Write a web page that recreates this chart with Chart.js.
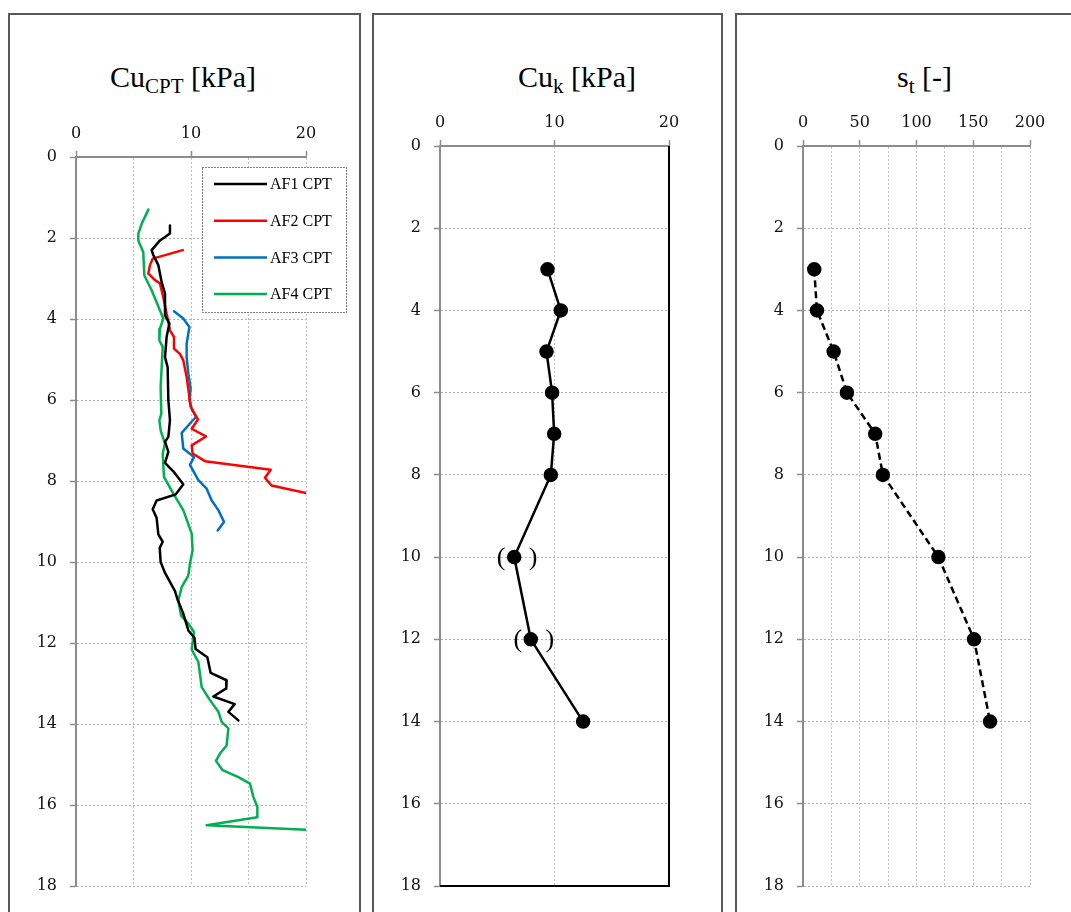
<!DOCTYPE html>
<html>
<head>
<meta charset="utf-8">
<script src="https://cdn.jsdelivr.net/npm/chart.js@4.4.1/dist/chart.umd.min.js"></script>
<style>
  body { margin: 0; background: #fff; width: 1071px; height: 912px; overflow: hidden; position: relative; font-family: "Liberation Serif", serif; }
  .panel { position: absolute; top: 13px; height: 930px; border: 2px solid #595959; box-sizing: border-box; }
  .title { position: absolute; top: 62px; font-size: 30px; line-height: 30px; white-space: nowrap; color: #000; }
  .title span { font-size: 21px; position: relative; top: 6px; }
  canvas { position: absolute; }
</style>
</head>
<body>
<div class="panel" style="left:8px; width:353px;"></div>
<div class="panel" style="left:372px; width:351px;"></div>
<div class="panel" style="left:735px; width:400px;"></div>

<div class="title" style="left:110px;">Cu<span>CPT</span> [kPa]</div>
<div class="title" style="left:518px;">Cu<span>k</span> [kPa]</div>
<div class="title" style="left:897px;">s<span>t</span> [-]</div>

<canvas id="chart-cpt" width="348" height="812" style="left:10px; top:100px;"></canvas>
<canvas id="chart-cuk" width="346" height="822" style="left:374px; top:90px;"></canvas>
<canvas id="chart-st" width="333" height="822" style="left:738px; top:90px;"></canvas>

<script>
// Cu CPT soundings (depth m, Cu kPa)
const af1Depth = [1.69,1.89,2.06,2.30,2.42,2.67,3.09,3.37,3.91,4.11,4.44,4.94,5.19,6.0,6.5,6.91,7.03,7.28,7.55,7.76,8.08,8.33,8.48,8.70,8.91,9.32,9.50,9.65,10.0,10.27,10.72,10.92,11.25,11.69,11.87,12.15,12.35,12.74,12.92,13.12,13.32,13.51,13.70,13.91];
const af1Cu = [8.17,8.17,7.3,6.58,6.72,7.16,7.45,7.74,7.74,8.12,7.88,7.74,7.97,8.03,8.17,8.03,7.74,8.03,7.74,8.46,9.33,8.68,7.01,6.67,7.01,7.16,7.54,7.28,7.36,7.74,8.61,8.82,9.3,9.77,10.3,10.4,11.42,11.71,13.1,13.07,11.94,13.8,13.25,14.12];

const af2Depth = [2.30,2.51,2.67,2.88,3.04,3.12,3.46,3.87,4.07,4.28,4.44,4.73,4.86,5.02,5.43,5.84,6.17,6.48,6.71,6.90,7.12,7.32,7.51,7.72,7.92,8.11,8.30];
const af2Cu = [9.28,6.67,6.43,6.29,6.87,7.3,7.59,7.88,8.03,8.17,8.52,8.52,9.04,9.33,9.62,9.82,9.97,10.6,10.06,11.3,10.06,10.14,11.22,16.93,16.43,17.0,20.0];

const af3Depth = [3.81,3.99,4.2,4.61,4.94,5.35,5.72,6.0,6.21,6.42,6.58,6.81,7.2,7.41,7.6,7.98,8.19,8.48,8.72,9.01,9.22];
const af3Cu = [8.52,9.33,9.86,9.62,9.62,9.77,9.97,9.86,10.06,10.43,9.91,9.19,9.33,10.26,9.91,10.64,11.36,11.8,12.38,12.87,12.32];

const af4Depth = [1.30,1.65,1.89,2.06,2.35,2.92,3.29,3.99,4.24,4.53,4.69,5.19,5.68,6.34,6.5,6.75,7.08,7.32,7.9,8.31,8.72,9.3,9.71,10.04,10.33,10.62,10.95,11.32,11.52,11.73,12.16,12.47,13.09,13.41,13.7,13.95,14.11,14.53,14.73,14.91,15.14,15.31,15.47,15.8,16.05,16.3,16.5,16.61];
const af4Cu = [6.29,5.71,5.42,5.42,5.85,5.94,6.58,7.59,7.3,7.25,7.54,7.45,7.36,7.42,7.25,7.36,7.74,7.54,7.65,8.46,9.33,10.06,10.14,9.91,9.77,9.19,8.9,9.13,9.77,10.26,10.06,10.64,10.93,11.65,12.38,12.67,13.25,13.1,12.52,12.17,12.75,14.12,15.13,15.42,15.77,15.77,11.36,20.0];

const seriesLabels = ["AF1 CPT", "AF2 CPT", "AF3 CPT", "AF4 CPT"];
const seriesColors = ["#000000", "#ff0000", "#0070c0", "#00b050"];

// Cu_k and s_t at sample depths
const sampleDepth = [3,4,5,6,7,8,10,12,14];
const cukValues = [9.39,10.55,9.30,9.79,9.97,9.68,6.48,7.93,12.5];
const bracketDepths = [10,12]; // values shown in ( )
const stValues = [9.9,12.3,27,38.7,63.6,70.4,119.3,150.7,164.8];

// axis settings
const depthMax = 18;
const depthStep = 2;

const toPoints = (xs, ys) => xs.map((x, i) => ({ x: x, y: ys[i] }));

const tickFont = { family: "DejaVu Serif", size: 16 };

function makeScales(xMax, gridStep, labelStep, yWidth, xHeight) {
    return {
        x: {
            type: 'linear',
            position: 'top',
            min: 0,
            max: xMax,
            afterFit: s => { s.height = xHeight; },
            ticks: {
                stepSize: gridStep,
                autoSkip: false,
                maxRotation: 0,
                padding: 8,
                color: '#111',
                font: tickFont,
                callback: v => (v % labelStep === 0 ? v : '')
            },
            grid: {
                color: '#c0c0c0',
                lineWidth: 1,
                tickLength: 6,
                tickWidth: 1.5,
                tickColor: c => (c.tick && c.tick.value % labelStep === 0 ? '#8c8c8c' : 'rgba(0,0,0,0)')
            },
            border: { color: '#8c8c8c', width: 2, dash: [2, 2] }
        },
        y: {
            type: 'linear',
            reverse: true,
            min: 0,
            max: depthMax,
            afterFit: s => { s.width = yWidth; },
            ticks: { stepSize: depthStep, padding: 13, color: '#111', font: tickFont },
            grid: { color: '#b0b0b0', lineWidth: 1, tickLength: 6, tickWidth: 1.5, tickColor: '#8c8c8c' },
            border: { color: '#8c8c8c', width: 2, dash: [2, 2] }
        }
    };
}

const baseOptions = (pad, scales) => ({
    responsive: false,
    animation: false,
    layout: { padding: pad },
    plugins: { legend: { display: false }, tooltip: { enabled: false } },
    scales: scales
});

// legend box drawn inside the first chart
const legendBox = {
    id: 'legendBox',
    afterDraw(chart) {
        const { ctx, chartArea } = chart;
        const x0 = chartArea.left + 126, y0 = chartArea.top + 10, w = 144, h = 145;
        ctx.save();
        ctx.fillStyle = '#fff';
        ctx.fillRect(x0, y0, w, h);
        ctx.strokeStyle = '#000';
        ctx.lineWidth = 1;
        ctx.setLineDash([1, 2]);
        ctx.strokeRect(x0 + 0.5, y0 + 0.5, w, h);
        ctx.setLineDash([]);
        ctx.font = '16px "Liberation Serif"';
        ctx.textBaseline = 'middle';
        ctx.fillStyle = '#000';
        chart.data.datasets.forEach((ds, i) => {
            const yy = y0 + 17 + i * 36.7;
            ctx.strokeStyle = ds.borderColor;
            ctx.lineWidth = 2.5;
            ctx.beginPath();
            ctx.moveTo(x0 + 12, yy);
            ctx.lineTo(x0 + 65, yy);
            ctx.stroke();
            ctx.fillText(ds.label, x0 + 68, yy + 1);
        });
        ctx.restore();
    }
};

new Chart(document.getElementById('chart-cpt'), {
    type: 'scatter',
    data: {
        datasets: [
            toPoints(af1Cu, af1Depth),
            toPoints(af2Cu, af2Depth),
            toPoints(af3Cu, af3Depth),
            toPoints(af4Cu, af4Depth)
        ].map((pts, i) => ({
            label: seriesLabels[i],
            data: pts,
            showLine: true,
            borderColor: seriesColors[i],
            borderWidth: 2.5,
            borderJoinStyle: 'round',
            borderCapStyle: 'round',
            pointRadius: 0,
            tension: 0
        }))
    },
    options: baseOptions({ left: 0, top: 0, right: 52, bottom: 26 }, makeScales(20, 5, 10, 66, 57)),
    plugins: [legendBox]
});

// black frame on right and bottom, plus ( ) around doubtful values
const cukFrame = {
    id: 'cukFrame',
    beforeDatasetsDraw(chart) {
        const { ctx, chartArea: a } = chart;
        ctx.save();
        ctx.strokeStyle = '#000';
        ctx.lineWidth = 2;
        ctx.beginPath();
        ctx.moveTo(a.left, a.bottom);
        ctx.lineTo(a.right, a.bottom);
        ctx.lineTo(a.right, a.top);
        ctx.stroke();
        ctx.restore();
    },
    afterDatasetsDraw(chart) {
        const { ctx } = chart;
        const meta = chart.getDatasetMeta(0);
        ctx.save();
        ctx.font = '26px "Liberation Serif"';
        ctx.fillStyle = '#000';
        ctx.textAlign = 'center';
        ctx.textBaseline = 'middle';
        sampleDepth.forEach((d, i) => {
            if (!bracketDepths.includes(d)) return;
            const p = meta.data[i];
            ctx.fillText('(', p.x - 13, p.y + 1);
            ctx.fillText(')', p.x + 19, p.y + 1);
        });
        ctx.restore();
    }
};

new Chart(document.getElementById('chart-cuk'), {
    type: 'scatter',
    data: {
        datasets: [{
            label: 'Cu k',
            data: toPoints(cukValues, sampleDepth),
            showLine: true,
            borderColor: '#000',
            borderWidth: 2.5,
            pointRadius: 6,
            pointBackgroundColor: '#000',
            pointBorderColor: '#000',
            tension: 0
        }]
    },
    options: baseOptions({ left: 0, top: 0, right: 51, bottom: 26 }, makeScales(20, 10, 10, 66, 56)),
    plugins: [cukFrame]
});

new Chart(document.getElementById('chart-st'), {
    type: 'scatter',
    data: {
        datasets: [{
            label: 'st',
            data: toPoints(stValues, sampleDepth),
            showLine: true,
            borderColor: '#000',
            borderWidth: 2.5,
            borderDash: [7, 4],
            pointRadius: 6,
            pointBackgroundColor: '#000',
            pointBorderColor: '#000',
            tension: 0
        }]
    },
    options: baseOptions({ left: 0, top: 0, right: 41, bottom: 26 }, makeScales(200, 25, 50, 65, 56))
});
</script>
</body>
</html>
